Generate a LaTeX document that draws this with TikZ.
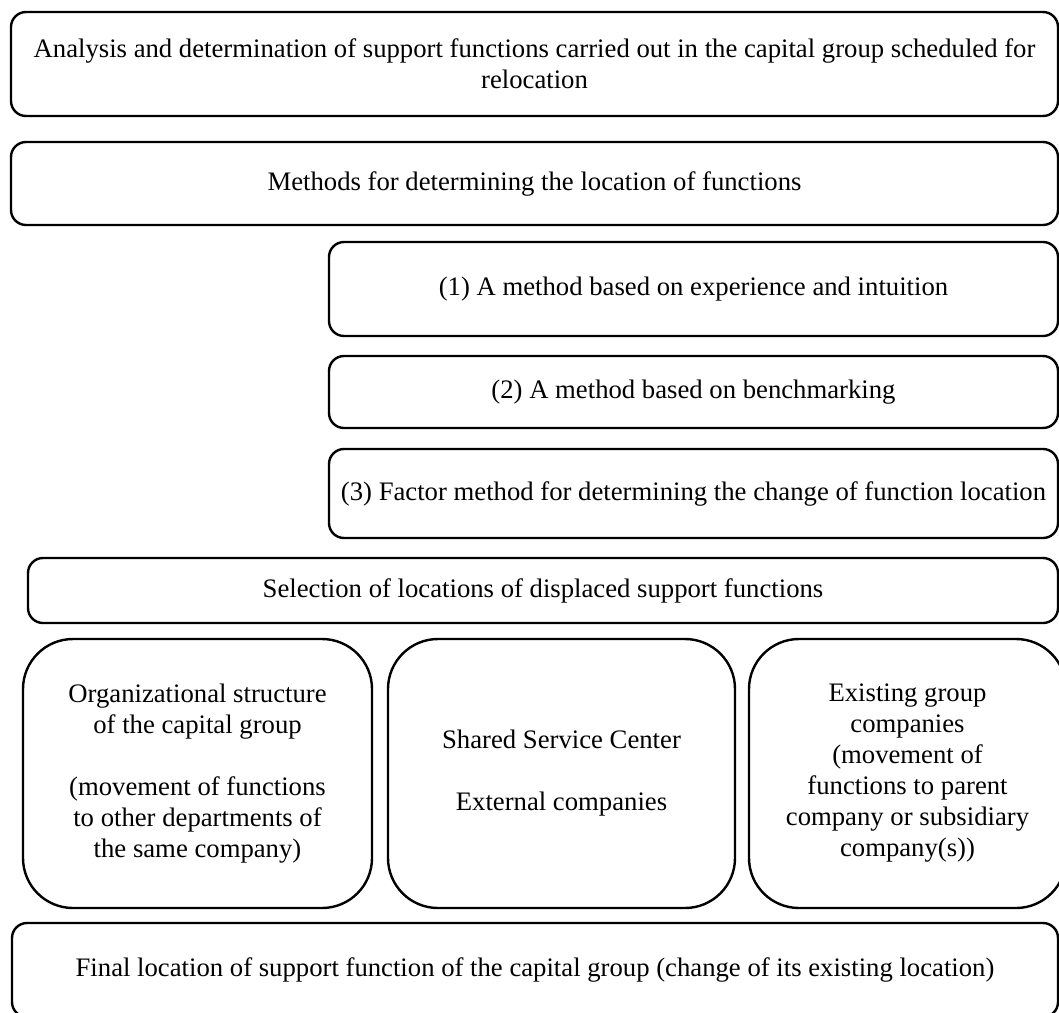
\documentclass[tikz,border=0pt]{standalone}
\usepackage{fontspec}
\setmainfont{Liberation Serif}
\begin{document}
\begin{tikzpicture}[x=1pt,y=-1pt,
  box/.style={draw, line width=2.4pt, rounded corners=15pt, align=center, inner sep=0pt,
    font=\fontsize{26.7}{31}\selectfont},
  tallbox/.style={box, rounded corners=50pt}]
\useasboundingbox (0,0) rectangle (1059,1012);
\node[box, minimum width=1047pt, minimum height=104pt] (a) at (534.5,64)
  {Analysis and determination of support functions carried out in the capital group scheduled for\\relocation};
\node[box, minimum width=1047pt, minimum height=83pt] (b) at (534.5,183.5)
  {Methods for determining the location of functions};
\node[box, minimum width=729pt, minimum height=94pt] (m1) at (693.5,289)
  {(1) A method based on experience and intuition};
\node[box, minimum width=729pt, minimum height=72pt] (m2) at (693.5,392)
  {(2) A method based on benchmarking};
\node[box, minimum width=729pt, minimum height=89pt] (m3) at (693.5,493.5)
  {(3) Factor method for determining the change of function location};
\node[box, minimum width=1030pt, minimum height=65pt] (sel) at (543,590.5)
  {Selection of locations of displaced support functions};
\node[tallbox, minimum width=349pt, minimum height=269pt] (org) at (197.5,773.5)
  {Organizational structure\\of the capital group\\[31pt](movement of functions\\to other departments of\\the same company)};
\node[tallbox, minimum width=347pt, minimum height=269pt] (ssc) at (561.5,773.5)
  {Shared Service Center\\[31pt]External companies};
\node[tallbox, minimum width=317pt, minimum height=269pt] (grp) at (907.5,773.5)
  {Existing group\\companies\\(movement of\\functions to parent\\company or subsidiary\\company(s))};
\node[box, minimum width=1046pt, minimum height=94pt] (fin) at (535,970)
  {Final location of support function of the capital group (change of its existing location)};
\end{tikzpicture}
\end{document}
